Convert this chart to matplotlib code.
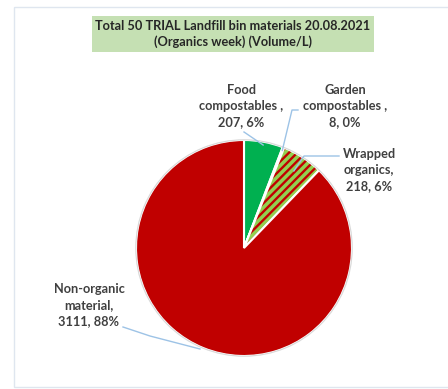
import matplotlib.pyplot as plt
import numpy as np
from matplotlib.patches import Rectangle, Wedge

# Landfill bin contents, volume in litres
categories = ["Food\ncompostables ,", "Garden\ncompostables ,", "Wrapped\norganics,", "Non-organic\nmaterial,"]
volumes = [207, 8, 218, 3111]
percents = [6, 0, 6, 88]

COLORS = ["#00B050", "#92D050", "#92D050", "#C00000"]
LEADER = "#9DC3E6"
TEXT = "#404040"

plt.rcParams["font.family"] = ["Lato", "DejaVu Sans"]
plt.rcParams["hatch.linewidth"] = 1.7

W, H = 448, 389
fig = plt.figure(figsize=(W / 100, H / 100), dpi=100)
ax = fig.add_axes([0, 0, 1, 1])
ax.set_xlim(0, W)
ax.set_ylim(H, 0)
ax.axis("off")

# chart frame
ax.add_patch(Rectangle((14, 7), 460, 380, fill=False, edgecolor="#dfe6ef", lw=1))

# pie drawn by hand so that y runs downward like the canvas
cx, cy, r = 244, 248, 108
total = sum(volumes)
start = 90.0
mids = []
for i, v in enumerate(volumes):
    span = 360.0 * v / total
    # screen angles (clockwise from top) -> wedge angles in flipped axes
    a1, a2 = start - span, start
    th1, th2 = -a2, -a1
    if i == 2:
        ax.add_patch(Wedge((cx, cy), r, th1, th2, facecolor=COLORS[i],
                           edgecolor="#C00000", hatch="////", lw=0))
        ax.add_patch(Wedge((cx, cy), r, th1, th2, facecolor="none",
                           edgecolor="white", lw=1.5))
    else:
        ax.add_patch(Wedge((cx, cy), r, th1, th2, facecolor=COLORS[i],
                           edgecolor="white", lw=1.5))
    mids.append(np.deg2rad(start - span / 2))
    start = a1

# faint rim around the whole pie
ax.add_patch(Wedge((cx, cy), r + 0.8, 0, 360, width=1.2, facecolor="#d9d9d9", edgecolor="none"))

def rim(k, f=1.0):
    return cx + f * r * np.cos(mids[k]), cy - f * r * np.sin(mids[k])

fs = 9.2
kw = dict(fontsize=fs, fontweight="bold", color=TEXT, ha="center", va="center", linespacing=1.38)
label_pos = [(241, 106), (345, 106), (369, 170), (89, 305)]
for k, (lx, ly) in enumerate(label_pos):
    ax.text(lx, ly, f"{categories[k]}\n{volumes[k]}, {percents[k]}%", **kw)

# leader lines
x0, y0 = rim(0, 0.97)
ax.plot([244, x0], [132, y0], color=LEADER, lw=1)
x1, y1 = rim(1, 0.97)
ax.plot([298, 292, x1], [110, 110, y1], color=LEADER, lw=1)
x2, y2 = rim(2, 0.85)
ax.plot([339, 304, x2], [156, 156, y2], color=LEADER, lw=1)
ax.plot([123, 150, 200], [327, 336, 349], color=LEADER, lw=1)

# title box
ax.text(233, 34, "Total 50 TRIAL Landfill bin materials 20.08.2021\n(Organics week) (Volume/L)",
        fontsize=fs, fontweight="bold", color="#262626", ha="center", va="center",
        linespacing=1.38,
        bbox=dict(boxstyle="square,pad=0.3", facecolor="#C5E0B3", edgecolor="none"))

fig.savefig("out.png", dpi=100)
